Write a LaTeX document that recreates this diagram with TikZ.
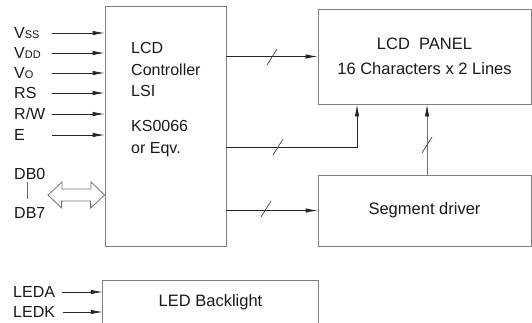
\documentclass[tikz,border=0pt]{standalone}
\usepackage{fontspec}
\setmainfont{Liberation Sans}
\usetikzlibrary{arrows.meta,calc}
\begin{document}
\begin{tikzpicture}[x=1pt,y=-1pt,
  every node/.style={font=\fontsize{16}{19}\selectfont, text=black!90},
  box/.style={draw=black!50, line width=0.8pt, inner sep=0pt},
  boxline/.style={draw=black!50, line width=0.8pt},
  wire/.style={draw=black!85, line width=0.8pt},
  sig/.style={wire, -{Latex[length=12pt,width=4.5pt]}},
  tick/.style={draw=black!75, line width=0.7pt},
  lbl/.style={anchor=base west, inner sep=0pt},
  dbl/.style={draw=black!55, line width=0.8pt, line join=miter}]

\useasboundingbox (0,0) rectangle (532,322);
\clip (0,0) rectangle (532,322);

% boxes
\node[box, minimum width=121pt, minimum height=240pt] (ctrl) at (165.5,126) {};
\node[anchor=north west, align=left, inner sep=0pt, font=\fontsize{16}{21.5}\selectfont] (ctrltxt) at (131,42.5)
  {LCD\\Controller\\LSI\\[13.5pt]KS0066\\or Eqv.};
\node[box, minimum width=213pt, minimum height=95pt, align=center, font=\fontsize{16.5}{25}\selectfont] (panel) at (424.5,56.5)
  {LCD\ \ PANEL\\16 Characters x 2 Lines};
\node[box, minimum width=213pt, minimum height=71pt, font=\fontsize{16.5}{20}\selectfont] (seg) at (424.5,210.5) {Segment driver};
\node[inner sep=0pt, minimum width=215pt, minimum height=42pt, font=\fontsize{16.5}{20}\selectfont] (led) at (210.5,302) {LED Backlight};
\draw[boxline] (led.south west) |- (led.north east) -- (led.south east);

% left labels
\node[lbl] (lvss) at (14,38) {V{\fontsize{11}{11}\selectfont SS}};
\node[lbl] (lvdd) at (14,58) {V{\fontsize{11}{11}\selectfont DD}};
\node[lbl] (lvo) at (14,78) {V{\fontsize{11}{11}\selectfont O}};
\node[lbl] (lrs) at (14,98) {RS};
\node[lbl] (lrw) at (14,119) {R/W};
\node[lbl] (le) at (14,140) {E};
\node[lbl] (ldb0) at (14,179) {DB0};
\node[lbl] (ldb7) at (14,218) {DB7};
\node[lbl] (lleda) at (13,297) {LEDA};
\node[lbl] (lledk) at (13,317) {LEDK};

% input arrows
\coordinate (s1) at (52,33);
\coordinate (s2) at (52,53);
\coordinate (s3) at (52,73);
\coordinate (s4) at (52,93);
\coordinate (s5) at (52,114);
\coordinate (s6) at (52,135);
\foreach \s in {s1,s2,s3,s4,s5,s6}
  \draw[sig] (\s) -- (\s -| ctrl.west);
\coordinate (la) at (62,292);
\coordinate (lk) at (63,312);
\draw[sig] (la) -- (la -| led.west);
\draw[sig] (lk) -- (lk -| led.west);

% DB0 - DB7 bar
\coordinate (dbt) at (27,182);
\coordinate (dbb) at (27,199);
\draw[draw=black!60, line width=0.7pt] (dbt) -- (dbb);

% hollow double arrow
\coordinate (dl) at (48,195);
\draw[dbl] (dl) -- ++(14,-13) -- ++(0,7) -- ++(29,0) -- ++(0,-7) -- (dl -| ctrl.west)
  -- ++(-14,13) -- ++(0,-7) -- ++(-29,0) -- ++(0,7) -- cycle;

% connectors to panel and segment driver
\draw[sig] (ctrl.east |- panel.west) -- (panel.west);
\draw[sig] (ctrl.east |- seg.west) -- (seg.west);
\coordinate (bend) at (357,147);
\draw[sig] (ctrl.east |- bend) -- (bend) -- (bend |- panel.south);
\coordinate (tap) at (427,175);
\draw[draw=black!55, line width=0.8pt, -{Latex[length=12pt,width=4.5pt,color=black!85]}] (tap |- seg.north) -- (tap |- panel.south);

% bus ticks
\coordinate (t1) at (272,57);
\coordinate (t2) at (278,147);
\coordinate (t3) at (266,209);
\coordinate (t4) at (427,145);
\foreach \t in {t1,t2,t3,t4}
  \draw[tick] ($(\t)+(-5,8)$) -- ++(10,-16);
\end{tikzpicture}
\end{document}
